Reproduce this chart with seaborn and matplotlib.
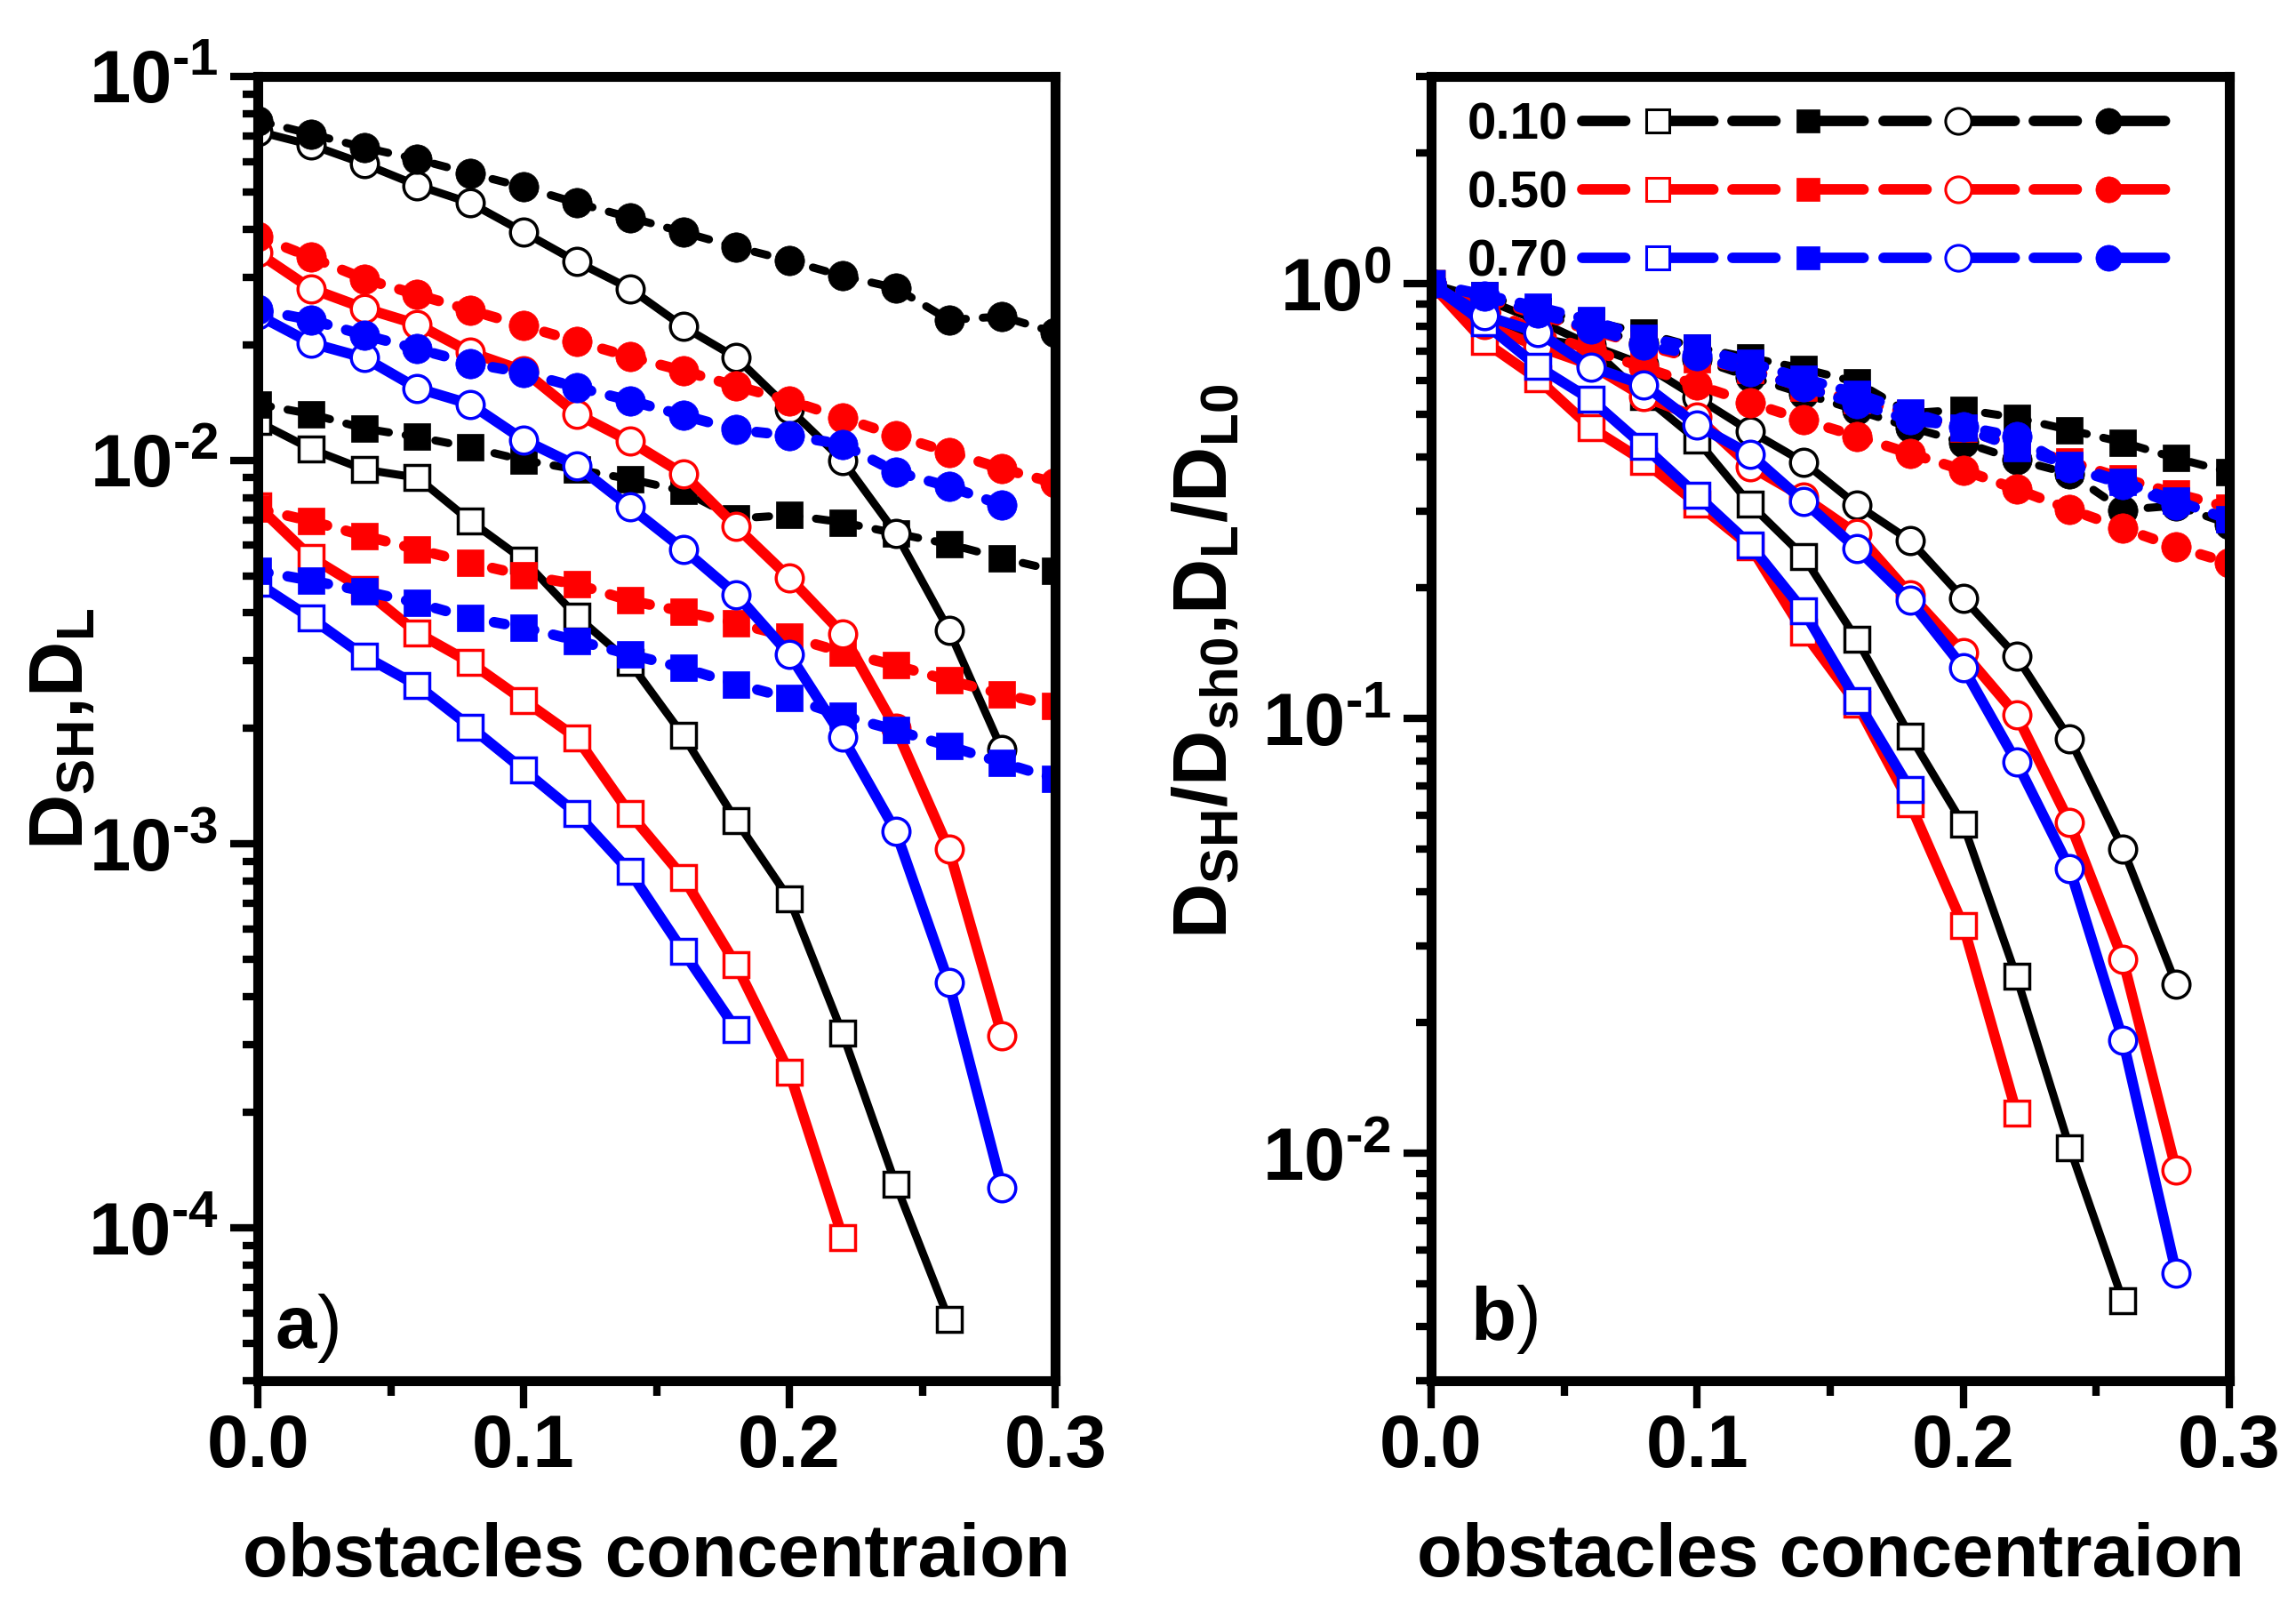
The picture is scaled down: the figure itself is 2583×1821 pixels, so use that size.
import numpy as np
import seaborn as sns
import matplotlib.pyplot as plt
from matplotlib.lines import Line2D
from matplotlib.legend_handler import HandlerTuple
from matplotlib.ticker import MultipleLocator, LogLocator, NullFormatter, FuncFormatter

sns.set_style('ticks')
plt.rcParams['font.family'] = ['Liberation Sans', 'DejaVu Sans']
plt.rcParams['font.weight'] = 'bold'
plt.rcParams['axes.labelweight'] = 'bold'
plt.rcParams['mathtext.fontset'] = 'custom'
plt.rcParams['mathtext.rm'] = 'Liberation Sans:bold'
plt.rcParams['mathtext.bf'] = 'Liberation Sans:bold'
for key in ['text.color', 'axes.labelcolor', 'xtick.color', 'ytick.color', 'axes.edgecolor']:
    plt.rcParams[key] = 'black'

# obstacles concentration
conc = [0.00, 0.02, 0.04, 0.06, 0.08, 0.10, 0.12, 0.14, 0.16, 0.18, 0.20, 0.22, 0.24, 0.26, 0.28, 0.30]
levels = ['0.10', '0.50', '0.70']

# panel a) D_SH, D_L (open square, filled square, open circle, filled circle)
a_osq_010 = [0.0126, 0.0107, 0.00946, 0.00901, 0.00694, 0.00550, 0.00392, 0.00297, 0.00192, 0.00115, 0.000719, 0.000321, 0.000130, 0.0000577]
a_fsq_010 = [0.0140, 0.0132, 0.0121, 0.0115, 0.0108, 0.0100, 0.00946, 0.00893, 0.00832, 0.00705, 0.00720, 0.00689, 0.00645, 0.00605, 0.00556, 0.00516]
a_oci_010 = [0.0719, 0.0663, 0.0592, 0.0520, 0.0468, 0.0393, 0.0329, 0.0280, 0.0223, 0.0185, 0.0136, 0.0100, 0.00646, 0.00361, 0.00176]
a_fci_010 = [0.0767, 0.0708, 0.0653, 0.0608, 0.0559, 0.0515, 0.0468, 0.0429, 0.0393, 0.0359, 0.0331, 0.0302, 0.0281, 0.0232, 0.0237, 0.0215]

a_osq_050 = [0.0076, 0.00559, 0.00460, 0.00355, 0.00297, 0.00237, 0.00189, 0.00120, 0.00082, 0.000484, 0.000254, 0.0000946]
a_fsq_050 = [0.00748, 0.00694, 0.00636, 0.00586, 0.00540, 0.00502, 0.00475, 0.00431, 0.00404, 0.00376, 0.00347, 0.00316, 0.00292, 0.00267, 0.00246, 0.00229]
a_oci_050 = [0.0347, 0.0280, 0.0249, 0.0226, 0.0191, 0.0171, 0.0132, 0.0112, 0.00922, 0.00671, 0.00494, 0.00353, 0.00200, 0.000969, 0.000317]
a_fci_050 = [0.0383, 0.0338, 0.0297, 0.0270, 0.0246, 0.0224, 0.0204, 0.0186, 0.0171, 0.0156, 0.0143, 0.0129, 0.0116, 0.0105, 0.00950, 0.00873]

a_osq_070 = [0.00478, 0.00388, 0.00309, 0.00259, 0.00202, 0.00156, 0.00120, 0.000848, 0.000526, 0.000329]
a_fsq_070 = [0.00515, 0.00486, 0.00456, 0.00425, 0.00388, 0.00367, 0.00339, 0.00312, 0.00288, 0.00261, 0.00240, 0.00216, 0.00198, 0.00180, 0.00163, 0.00148]
a_oci_070 = [0.0239, 0.0202, 0.0185, 0.0154, 0.0140, 0.0113, 0.00968, 0.00755, 0.00587, 0.00447, 0.00312, 0.00190, 0.00108, 0.000435, 0.000127]
a_fci_070 = [0.0247, 0.0232, 0.0212, 0.0195, 0.0179, 0.0169, 0.0155, 0.0143, 0.0131, 0.0120, 0.0116, 0.0110, 0.00933, 0.00854, 0.00765]

# panel b) normalised D_SH/D_sh0, D_L/D_L0
b_osq_010 = [1.0, 0.849, 0.751, 0.715, 0.551, 0.437, 0.311, 0.236, 0.152, 0.0913, 0.0571, 0.0255, 0.0103, 0.00458]
b_fsq_010 = [1.0, 0.943, 0.864, 0.821, 0.771, 0.714, 0.676, 0.638, 0.594, 0.504, 0.514, 0.492, 0.461, 0.432, 0.397, 0.369]
b_oci_010 = [1.0, 0.922, 0.823, 0.723, 0.651, 0.547, 0.458, 0.389, 0.310, 0.257, 0.189, 0.139, 0.0898, 0.0502, 0.0245]
b_fci_010 = [1.0, 0.923, 0.851, 0.793, 0.729, 0.671, 0.610, 0.559, 0.512, 0.468, 0.432, 0.394, 0.366, 0.302, 0.309, 0.280]

b_osq_050 = [1.0, 0.736, 0.605, 0.467, 0.391, 0.312, 0.249, 0.158, 0.108, 0.0637, 0.0334, 0.0124]
b_fsq_050 = [1.0, 0.928, 0.850, 0.783, 0.722, 0.671, 0.635, 0.576, 0.540, 0.503, 0.464, 0.422, 0.390, 0.357, 0.329, 0.306]
b_oci_050 = [1.0, 0.807, 0.718, 0.651, 0.550, 0.493, 0.380, 0.323, 0.266, 0.193, 0.142, 0.102, 0.0576, 0.0279, 0.00914]
b_fci_050 = [1.0, 0.883, 0.775, 0.705, 0.642, 0.585, 0.533, 0.486, 0.446, 0.407, 0.373, 0.337, 0.303, 0.274, 0.248, 0.228]

b_osq_070 = [1.0, 0.812, 0.646, 0.542, 0.423, 0.326, 0.251, 0.177, 0.110, 0.0688]
b_fsq_070 = [1.0, 0.944, 0.885, 0.825, 0.753, 0.713, 0.658, 0.606, 0.559, 0.507, 0.466, 0.419, 0.384, 0.350, 0.317, 0.287]
b_oci_070 = [1.0, 0.845, 0.774, 0.644, 0.586, 0.473, 0.405, 0.316, 0.246, 0.187, 0.131, 0.0795, 0.0452, 0.0182, 0.00531]
b_fci_070 = [1.0, 0.939, 0.858, 0.789, 0.725, 0.684, 0.628, 0.579, 0.530, 0.486, 0.470, 0.445, 0.378, 0.346, 0.310]

panel_a = [[a_osq_010, a_fsq_010, a_oci_010, a_fci_010],
           [a_osq_050, a_fsq_050, a_oci_050, a_fci_050],
           [a_osq_070, a_fsq_070, a_oci_070, a_fci_070]]
panel_b = [[b_osq_010, b_fsq_010, b_oci_010, b_fci_010],
           [b_osq_050, b_fsq_050, b_oci_050, b_fci_050],
           [b_osq_070, b_fsq_070, b_oci_070, b_fci_070]]

colors = ['#000000', '#FF0000', '#0000FF']
widths = [6.5, 8.5, 8.5]
markers = ['s', 's', 'o', 'o']
filled = [False, True, False, True]
msizes = [20, 21, 22, 24]


def draw_panel(ax, series):
    for col, lw, group in zip(colors, widths, series):
        lw_px = lw / 72 * 100
        dash = (0, ((24 - lw_px) / lw_px, (10 + lw_px) / lw_px))
        for mk, fill, ms, y in zip(markers, filled, msizes, group):
            sns.lineplot(x=conc[:len(y)], y=y, ax=ax, color=col, lw=lw,
                         linestyle=dash if fill else '-',
                         dash_capstyle='round', solid_capstyle='round',
                         marker=mk, markersize=ms,
                         mfc=col if fill else 'white', mec=col,
                         mew=0.5 if fill else 2.5,
                         errorbar=None, legend=False)


def log_label(v, pos):
    e = round(np.log10(v))
    if e < 0:
        return r'$\mathbf{10^{\text{-}%d}}$' % abs(e)
    return r'$\mathbf{10^{%d}}$' % e


def style_axes(ax, ylim):
    ax.set_yscale('log')
    ax.set_xlim(0, 0.3)
    ax.set_ylim(*ylim)
    ax.xaxis.set_major_locator(MultipleLocator(0.1))
    ax.xaxis.set_minor_locator(MultipleLocator(0.05))
    ax.xaxis.set_major_formatter(FuncFormatter(lambda v, p: f'{v:.1f}'))
    ax.yaxis.set_major_locator(LogLocator(base=10))
    ax.yaxis.set_minor_locator(LogLocator(base=10, subs=np.arange(2, 10)))
    ax.yaxis.set_minor_formatter(NullFormatter())
    ax.yaxis.set_major_formatter(FuncFormatter(log_label))
    ax.tick_params(which='major', direction='out', length=22, width=6,
                   top=False, right=False, color='black')
    ax.tick_params(axis='x', which='major', pad=4, labelsize=60)
    ax.tick_params(axis='y', which='major', pad=10, labelsize=60)
    ax.tick_params(which='minor', direction='out', length=12, width=6,
                   top=False, right=False, color='black')
    for s in ax.spines.values():
        s.set_linewidth(8)
        s.set_color('black')
    ax.set_xlabel('obstacles concentraion', fontsize=60, labelpad=32)


fig = plt.figure(figsize=(25.83, 18.21), dpi=100)
ax_a = fig.add_axes([0.1123, 0.1472, 0.3473, 0.8056])
ax_b = fig.add_axes([0.6233, 0.1472, 0.3477, 0.8056])

draw_panel(ax_a, panel_a)
draw_panel(ax_b, panel_b)
style_axes(ax_a, (4e-5, 0.1))
style_axes(ax_b, (3e-3, 3))

ax_a.set_ylabel(r'$\mathbf{D_{SH}{,}D_{L}}$', fontsize=62)
ax_a.yaxis.set_label_coords(-0.2, 0.5)
ax_b.set_ylabel(r'$\mathbf{D_{SH}/D_{sh0}{,}D_{L}/D_{L0}}$', fontsize=62)
ax_b.yaxis.set_label_coords(-0.236, 0.552)

ax_a.text(0.022, 0.025, 'a', transform=ax_a.transAxes,
          fontsize=60, va='baseline', ha='left')
ax_a.text(0.074, 0.025, ')', transform=ax_a.transAxes,
          fontsize=60, fontweight='normal', va='baseline', ha='left')
ax_b.text(0.049, 0.032, 'b', transform=ax_b.transAxes,
          fontsize=60, va='baseline', ha='left')
ax_b.text(0.106, 0.032, ')', transform=ax_b.transAxes,
          fontsize=60, fontweight='normal', va='baseline', ha='left')

# legend: one row per level with the four symbols along a dashed line
handles = []
for col in colors:
    parts = []
    for mk, fill in zip(markers, filled):
        parts.append(Line2D([], [], color=col, lw=8.5,
                            linestyle=(0, (4.1, 4.2, 4.2, 2.0)),
                            dash_capstyle='round', marker=mk,
                            markersize=19 if mk == 's' else 21,
                            mfc=col if fill else 'white', mec=col,
                            mew=0.5 if fill else 2.2))
    handles.append(tuple(parts))
ax_b.legend(handles, levels, handler_map={tuple: HandlerTuple(ndivide=None, pad=0)},
            loc='upper left', bbox_to_anchor=(0.045, 0.9805), frameon=False,
            fontsize=42, handlelength=11.6, handletextpad=0.28, labelspacing=0.39,
            markerfirst=False, numpoints=1, borderpad=0, borderaxespad=0)

fig.savefig('out.png', dpi=100)
